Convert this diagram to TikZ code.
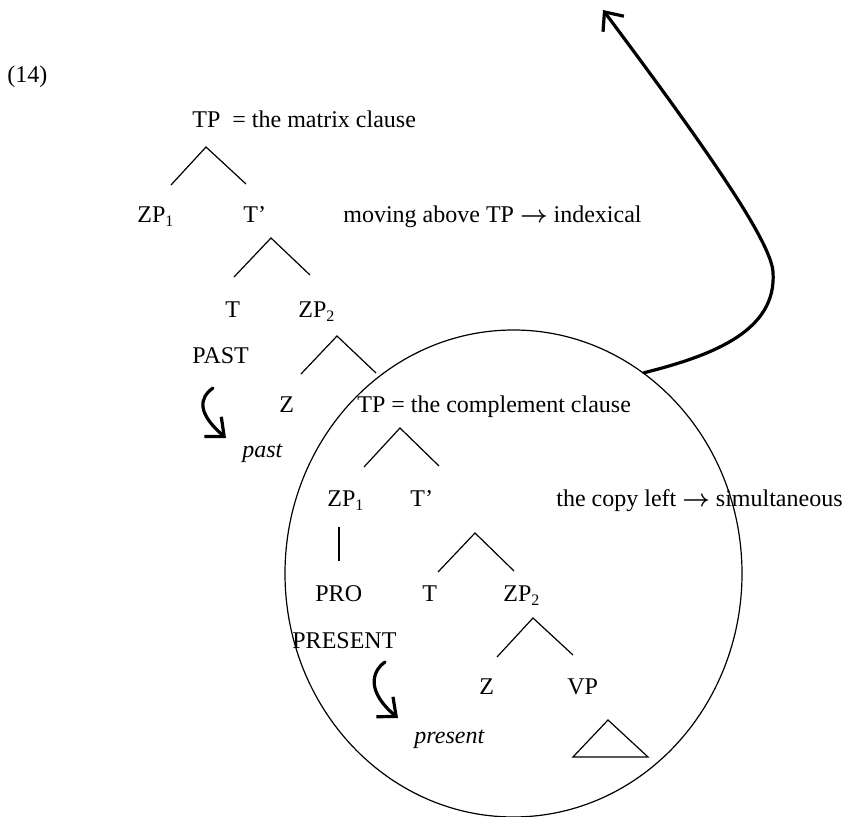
\documentclass[tikz,border=0pt]{standalone}
\usepackage{fontspec}
\setmainfont{Liberation Serif}
\usetikzlibrary{arrows.meta,shapes.geometric}

\begin{document}
\begin{tikzpicture}[x=0.5pt, y=-0.5pt,
  word/.style={anchor=base west, inner sep=0pt, font=\fontsize{12}{14}\selectfont},
  gloss/.style={word, font=\fontsize{12}{14}\selectfont\itshape},
  branch/.style={line width=0.6pt},
  shift arrow/.style={line width=1.6pt, line cap=round, -{Straight Barb[length=7.5pt, width=13pt]}}]%
\useasboundingbox (0,0) rectangle (846,817);%
% upper tree: the matrix clause
\node[word] (num) at (7,83) {(14)};%
\node[word] (tpm) at (192,128) {TP~ = the matrix clause};%
\node[word] (zpa) at (137,223) {ZP\textsubscript{1}};%
\node[word] (tba) at (243,223) {T’};%
\node[word] (mov) at (343,223) {moving above TP {\boldmath$\rightarrow$} indexical};%
\node[word] (ta) at (225,318) {T};%
\node[word] (zpb) at (298,318) {ZP\textsubscript{2}};%
\node[word] (pst) at (192,364) {PAST};%
\node[word] (za) at (279,413) {Z};%
\node[gloss] (psti) at (242,458) {past};%
% lower tree: the complement clause
\node[word] (tpc) at (357,413) {TP = the complement clause};%
\node[word] (zpc) at (327,507) {ZP\textsubscript{1}};%
\node[word] (tbb) at (410,507) {T’};%
\node[word] (cpy) at (556,507) {the copy left {\boldmath$\rightarrow$} simultaneous};%
\node[word] (pro) at (315,602) {PRO};%
\node[word] (tb) at (422,602) {T};%
\node[word] (zpd) at (503,602) {ZP\textsubscript{2}};%
\node[word] (prs) at (292,648) {PRESENT};%
\node[word] (zb) at (479,695) {Z};%
\node[word] (vp) at (567,695) {VP};%
\node[gloss] (prsi) at (414,743) {present};%
\node[draw, ellipse, line width=0.6pt, inner sep=0pt, minimum width=228.5pt, minimum height=243.5pt] (cplx) at (513.5,573.5) {};%
% branching points
\coordinate (a0) at (206,147); \coordinate (a1) at (171,185); \coordinate (a2) at (246,184);%
\coordinate (b0) at (271,238); \coordinate (b1) at (234,277); \coordinate (b2) at (310,275);%
\coordinate (c0) at (337,336); \coordinate (c1) at (301,374); \coordinate (c2) at (376,373);%
\coordinate (d0) at (400,428); \coordinate (d1) at (364,467); \coordinate (d2) at (439,466);%
\coordinate (e0) at (475,533); \coordinate (e1) at (438,572); \coordinate (e2) at (514,571);%
\coordinate (f0) at (533,618); \coordinate (f1) at (497,657); \coordinate (f2) at (573,655);%
\coordinate (g0) at (339,527); \coordinate (g1) at (339,561);%
\coordinate (v0) at (608,720); \coordinate (v1) at (573,757); \coordinate (v2) at (648,757);%
\draw[branch] (a1) -- (a0) -- (a2);%
\draw[branch] (b1) -- (b0) -- (b2);%
\draw[branch] (c1) -- (c0) -- (c2);%
\draw[branch] (d1) -- (d0) -- (d2);%
\draw[branch] (e1) -- (e0) -- (e2);%
\draw[branch] (f1) -- (f0) -- (f2);%
\draw[branch] (g0) -- (g1);%
\draw[branch] (v0) -- (v1) -- (v2) -- cycle;%
% tense arrows
\coordinate (pst-out) at (213,388); \coordinate (pst-in) at (226,438);%
\coordinate (prs-out) at (385,662); \coordinate (prs-in) at (398,718);%
\coordinate (up) at (603,10);%
\draw[shift arrow] (pst-out) .. controls (199,398) and (197,413) .. (pst-in);%
\draw[shift arrow] (prs-out) .. controls (371,672) and (367,692) .. (prs-in);%
\draw[shift arrow] (cplx.57.3) .. controls (715,355) and (777,330) .. (773,272) .. controls (771,240) and (700,140) .. (up);%
\end{tikzpicture}
\end{document}
